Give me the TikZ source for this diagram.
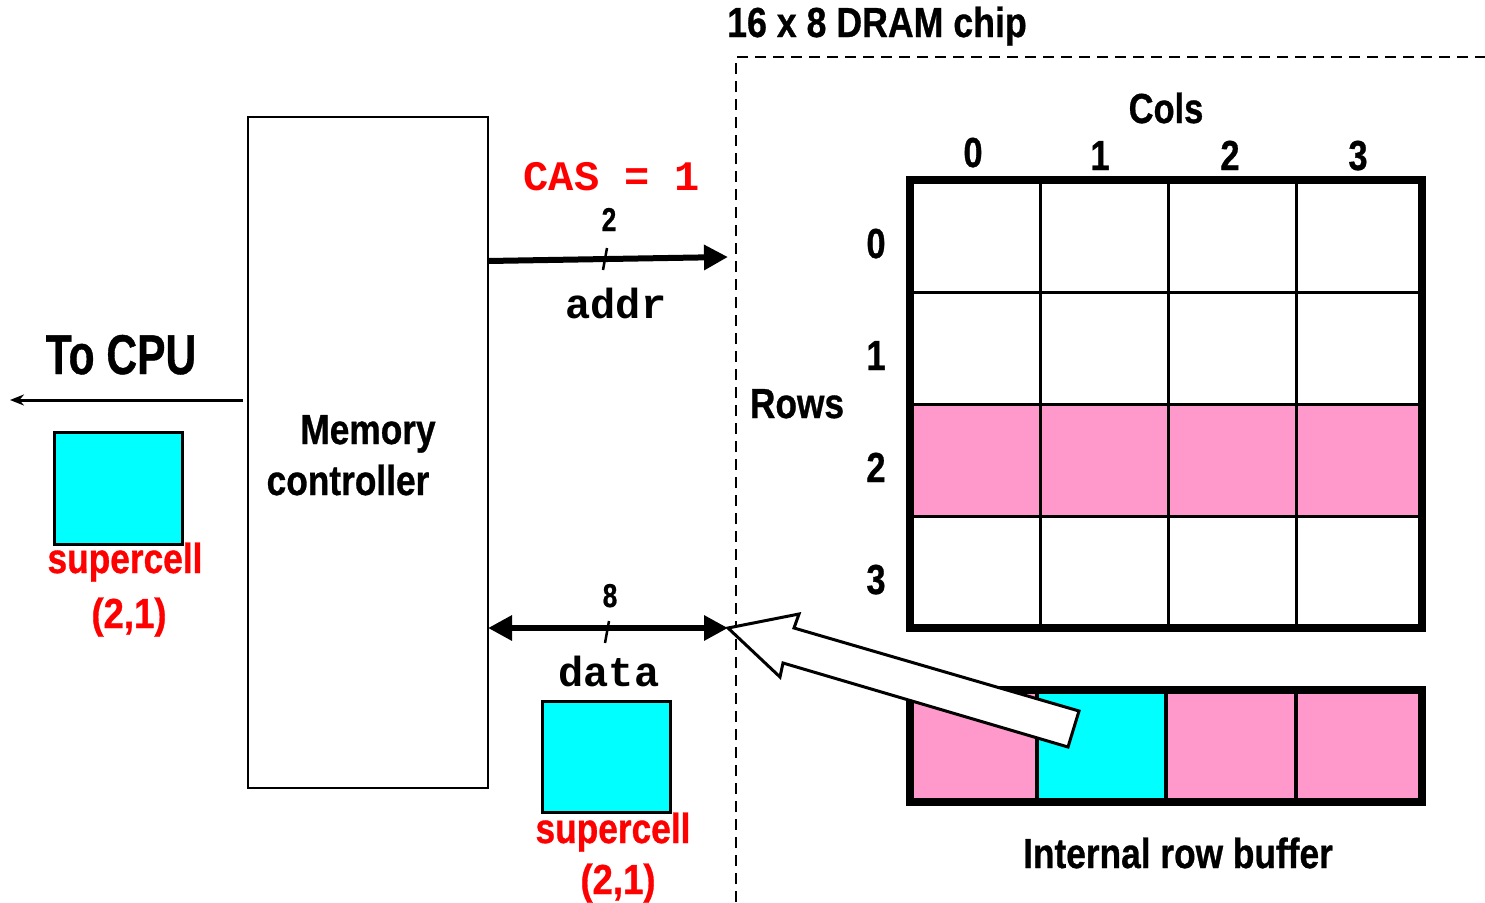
\documentclass[tikz,border=0pt]{standalone}
\usepackage{graphicx}
\usepackage{fontspec}
\setmainfont{Liberation Sans}[BoldFeatures={FakeBold=0.8}]
\newfontfamily\monof{Liberation Mono}
\usetikzlibrary{arrows.meta}
\definecolor{pinkc}{HTML}{FF99CC}
\definecolor{cyanc}{HTML}{00FFFF}
\definecolor{redc}{HTML}{FF0000}
\newcommand{\tx}[3]{\scalebox{#2}[1]{\fontsize{#1}{#1}\selectfont\bfseries #3}}
\newcommand{\mx}[2]{{\fontsize{#1}{#1}\selectfont\monof\bfseries #2}}
\tikzset{
  lbl/.style={inner sep=0pt, outer sep=0pt, anchor=base},
  boxn/.style={draw, inner sep=0pt, outer sep=0pt, anchor=north west},
  bus/.style={line width=6pt},
  tick/.style={line width=2.5pt},
  chipedge/.style={line width=2.8pt, dash pattern=on 11pt off 7pt},
}
\begin{document}
\begin{tikzpicture}[x=1pt,y=-1pt]
\useasboundingbox (0,0) rectangle (1485,902);

% dashed chip boundary
\coordinate (d1) at (736,902);
\coordinate (d2) at (736,57);
\coordinate (d3) at (1485,57);
\draw[chipedge] (d1) -- (d2) -- (d3);
\node[lbl] (title) at (877,37) {\tx{42}{0.85}{16 x 8 DRAM chip}};

% memory controller
\node[boxn, line width=2.5pt, minimum width=240pt, minimum height=671pt] (mc) at (248,117) {};
\node[lbl] (memA) at (368,444) {\tx{42}{0.84}{Memory}};
\node[lbl] (memB) at (348,495) {\tx{42}{0.84}{controller}};

% to CPU
\node[lbl] (tocpu) at (121,374) {\tx{56}{0.76}{To CPU}};
\coordinate (cpuS) at (243,400);
\coordinate (cpuE) at (10,400);
\draw[line width=3pt, -{Stealth[length=14pt,width=11pt]}] (cpuS) -- (cpuE);

% left supercell
\node[boxn, line width=3pt, fill=cyanc, minimum width=128pt, minimum height=112pt] (sc1) at (54,432) {};
\node[lbl, text=redc] (sc1a) at (125,573) {\tx{42}{0.84}{supercell}};
\node[lbl, text=redc] (sc1b) at (129,628) {\tx{42}{0.87}{(2,1)}};

% addr bus
\node[lbl, text=redc] (cas) at (612,190) {\mx{42}{CAS = 1}};
\coordinate (aS) at (488,261);
\coordinate (aE) at (728,257);
\draw[bus, -{Triangle[length=24pt,width=24pt]}] (aS) -- (aE);
\draw[tick] (603,270) -- (607,248);
\node[lbl] (two) at (609,231) {\tx{33}{0.8}{2}};
\node[lbl] (addr) at (616,318) {\mx{42}{addr}};

% data bus
\coordinate (dS) at (488,628);
\coordinate (dE) at (728,628);
\draw[bus, {Triangle[length=24pt,width=24pt]}-{Triangle[length=24pt,width=24pt]}] (dS) -- (dE);
\draw[tick] (605,643) -- (609,621);
\node[lbl] (eight) at (610,607) {\tx{33}{0.8}{8}};
\node[lbl] (data) at (609,686) {\mx{42}{data}};

% right supercell
\node[boxn, line width=3pt, fill=cyanc, minimum width=128pt, minimum height=111pt] (sc2) at (542,701) {};
\node[lbl, text=redc] (sc2a) at (613,843) {\tx{42}{0.84}{supercell}};
\node[lbl, text=redc] (sc2b) at (618,894) {\tx{42}{0.87}{(2,1)}};

% DRAM array
\node[lbl] (cols) at (1166,123) {\tx{42}{0.82}{Cols}};
\node[lbl] (c0) at (973,167) {\tx{42}{0.82}{0}};
\node[lbl] (c1) at (1100,170) {\tx{42}{0.82}{1}};
\node[lbl] (c2) at (1230,170) {\tx{42}{0.82}{2}};
\node[lbl] (c3) at (1358,170) {\tx{42}{0.82}{3}};
\node[lbl] (rows) at (797,418) {\tx{42}{0.84}{Rows}};
\node[lbl] (r0) at (876,258) {\tx{42}{0.82}{0}};
\node[lbl] (r1) at (876,370) {\tx{42}{0.82}{1}};
\node[lbl] (r2) at (876,482) {\tx{42}{0.82}{2}};
\node[lbl] (r3) at (876,594) {\tx{42}{0.82}{3}};

\fill[pinkc] (910,404) rectangle (1422,516);
\foreach \xx in {1040,1168,1296} \draw[line width=3pt] (\xx,180) -- (\xx,628);
\foreach \yy in {292,404,516} \draw[line width=3pt] (910,\yy) -- (1422,\yy);
\node[boxn, line width=8pt, minimum width=512pt, minimum height=448pt] (grid) at (910,180) {};

% row buffer
\fill[pinkc] (910,690) rectangle (1037,802);
\fill[cyanc] (1037,690) rectangle (1166,802);
\fill[pinkc] (1166,690) rectangle (1422,802);
\foreach \xx in {1037,1166,1296} \draw[line width=4pt] (\xx,690) -- (\xx,802);
\node[boxn, line width=8pt, minimum width=512pt, minimum height=112pt] (rbuf) at (910,690) {};
\node[lbl] (rbl) at (1178,868) {\tx{42}{0.84}{Internal row buffer}};

% block arrow from row buffer to data bus
\draw[line width=3pt, fill=white, line join=miter]
  (dE) -- (799,614) -- (794,628) -- (1079,711) -- (1068,747) -- (783,663) -- (780,677) -- cycle;
\end{tikzpicture}
\end{document}
